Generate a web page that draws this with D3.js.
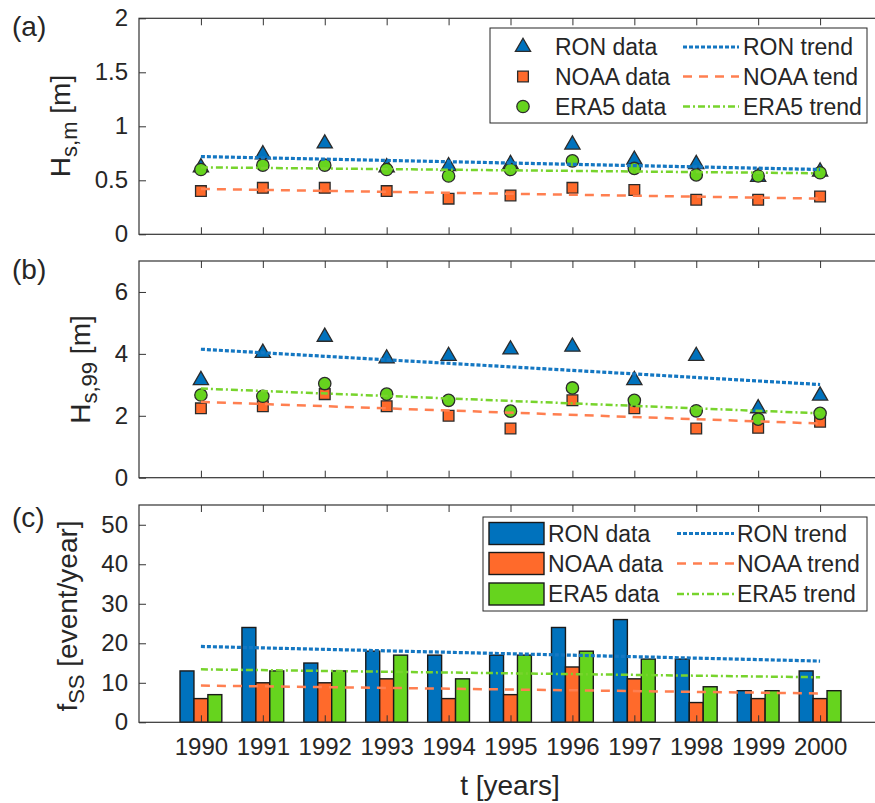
<!DOCTYPE html>
<html>
<head>
<meta charset="utf-8">
<script src="https://cdn.jsdelivr.net/npm/d3@7"></script>
<style>
  body { margin: 0; background: #fff; }
  text { font-family: "Liberation Sans", Arial, sans-serif; fill: #262626; }
</style>
</head>
<body>
<svg id="chart" width="875" height="803"></svg>
<script>
// years on the x axis
const years = [1990, 1991, 1992, 1993, 1994, 1995, 1996, 1997, 1998, 1999, 2000];
const trendYears = [1990, 2000];

// (a) mean significant wave height [m]
const ronHsm  = [0.62, 0.74, 0.84, 0.62, 0.63, 0.65, 0.83, 0.69, 0.65, 0.53, 0.58];
const noaaHsm = [0.40, 0.43, 0.43, 0.40, 0.33, 0.36, 0.43, 0.41, 0.32, 0.32, 0.35];
const era5Hsm = [0.60, 0.64, 0.64, 0.60, 0.54, 0.60, 0.68, 0.61, 0.55, 0.54, 0.57];
const ronTrendA  = [0.72, 0.60];
const noaaTrendA = [0.42, 0.33];
const era5TrendA = [0.62, 0.565];

// (b) 99th percentile wave height [m]
const ronHs99  = [3.15, 4.03, 4.55, 3.85, 3.93, 4.14, 4.23, 3.15, 3.93, 2.24, 2.65];
const noaaHs99 = [2.24, 2.31, 2.70, 2.31, 2.00, 1.59, 2.50, 2.24, 1.59, 1.61, 1.81];
const era5Hs99 = [2.67, 2.63, 3.04, 2.70, 2.50, 2.15, 2.90, 2.50, 2.16, 1.89, 2.08];
const ronTrendB  = [4.15, 3.01];
const noaaTrendB = [2.45, 1.75];
const era5TrendB = [2.88, 2.08];

// (c) storm frequency [event/year]
const ronFss  = [13, 24, 15, 18, 17, 17, 24, 26, 16, 8, 13];
const noaaFss = [6, 10, 10, 11, 6, 7, 14, 11, 5, 6, 6];
const era5Fss = [7, 13, 13, 17, 11, 17, 18, 16, 9, 8, 8];
const ronTrendC  = [19.2, 15.5];
const noaaTrendC = [9.3, 7.3];
const era5TrendC = [13.4, 11.4];

const ticksA = [0, 0.5, 1, 1.5, 2];
const ticksB = [0, 2, 4, 6];
const ticksC = [0, 10, 20, 30, 40, 50];

const markerCol = { ron: '#0072BD', noaa: '#FF6A2B', era5: '#66D41E' };
const trendCol  = { ron: '#1477C2', noaa: '#FF7F50', era5: '#77D42C' };
const trendDash = { ron: '4,2', noaa: '9,7', era5: '7,3,2,3' };
const trendWidth = { ron: 3.2, noaa: 2.5, era5: 2.5 };

const svg = d3.select('#chart');
svg.append('rect').attr('width', 875).attr('height', 803).attr('fill', '#fff');

const x = d3.scaleLinear().domain([1989, 2001]).range([139, 882]);

function frame(y, ticks, showXLabels) {
  const g = svg.append('g');
  const [y0, y1] = y.range();
  const fmt = d => String(d);

  g.append('g').attr('transform', `translate(0,${y0})`)
    .call(d3.axisBottom(x).tickValues(years).tickSize(-7).tickPadding(16)
      .tickFormat(showXLabels ? fmt : ''));
  g.append('g').attr('transform', `translate(0,${y1})`)
    .call(d3.axisTop(x).tickValues(years).tickSize(-7).tickFormat(''));
  g.append('g').attr('transform', `translate(${x.range()[0]},0)`)
    .call(d3.axisLeft(y).tickValues(ticks).tickSize(-7).tickPadding(11).tickFormat(fmt));
  g.append('g').attr('transform', `translate(${x.range()[1]},0)`)
    .call(d3.axisRight(y).tickValues(ticks).tickSize(-7).tickFormat(''));

  g.selectAll('.domain').remove();
  g.selectAll('.tick line').attr('stroke', '#333').attr('stroke-width', 1);
  g.selectAll('.tick text').style('font-size', '24px').attr('fill', '#262626');

  g.append('rect')
    .attr('x', x.range()[0]).attr('y', y1)
    .attr('width', x.range()[1] - x.range()[0]).attr('height', y0 - y1)
    .attr('fill', 'none').attr('stroke', '#333').attr('stroke-width', 1.2);
}

function trend(y, vals, key) {
  svg.append('path')
    .datum(trendYears.map((t, i) => [t, vals[i]]))
    .attr('d', d3.line().x(d => x(d[0])).y(d => y(d[1])))
    .attr('fill', 'none')
    .attr('stroke', trendCol[key])
    .attr('stroke-width', trendWidth[key])
    .attr('stroke-dasharray', trendDash[key]);
}

const symbols = {
  ron:  d3.symbol().type(d3.symbolTriangle).size(100)(),
  noaa: d3.symbol().type(d3.symbolSquare).size(115)(),
  era5: d3.symbol().type(d3.symbolCircle).size(120)()
};

function scatter(y, vals, key) {
  svg.append('g').selectAll('path')
    .data(years.map((t, i) => [t, vals[i]]))
    .join('path')
    .attr('d', symbols[key])
    .attr('transform', d => `translate(${x(d[0])},${y(d[1])})`)
    .attr('fill', markerCol[key])
    .attr('stroke', '#2b2b2b')
    .attr('stroke-width', 1.3);
}

function yLabel(tx, ty, main, sub, tail) {
  const t = svg.append('text')
    .attr('transform', `translate(${tx},${ty}) rotate(-90)`)
    .attr('text-anchor', 'middle')
    .style('font-size', '28px');
  t.append('tspan').text(main);
  t.append('tspan').attr('dy', 7).style('font-size', '22px').text(sub);
  t.append('tspan').attr('dy', -7).text(tail);
}

function panelLabel(tx, ty, s) {
  svg.append('text').attr('x', tx).attr('y', ty).style('font-size', '28px').text(s);
}

// ---------- panel (a)
const yA = d3.scaleLinear().domain([0, 2]).range([234.3, 18.3]);
scatter(yA, ronHsm, 'ron');
scatter(yA, noaaHsm, 'noaa');
scatter(yA, era5Hsm, 'era5');
trend(yA, ronTrendA, 'ron');
trend(yA, noaaTrendA, 'noaa');
trend(yA, era5TrendA, 'era5');
frame(yA, ticksA, false);
yLabel(70, 126, 'H', 's,m', ' [m]');
panelLabel(12, 36, '(a)');

// ---------- panel (b)
const yB = d3.scaleLinear().domain([0, 7]).range([477.7, 261]);
scatter(yB, ronHs99, 'ron');
scatter(yB, noaaHs99, 'noaa');
scatter(yB, era5Hs99, 'era5');
trend(yB, ronTrendB, 'ron');
trend(yB, noaaTrendB, 'noaa');
trend(yB, era5TrendB, 'era5');
frame(yB, ticksB, false);
yLabel(90, 369.5, 'H', 's,99', ' [m]');
panelLabel(12, 279, '(b)');

// ---------- panel (c)
const yC = d3.scaleLinear().domain([0, 55]).range([722.3, 505]);
const barSeries = [
  { key: 'ron', vals: ronFss, off: -0.225 },
  { key: 'noaa', vals: noaaFss, off: 0 },
  { key: 'era5', vals: era5Fss, off: 0.225 }
];
const barW = 0.225;
barSeries.forEach(s => {
  svg.append('g').selectAll('rect')
    .data(years.map((t, i) => [t, s.vals[i]]))
    .join('rect')
    .attr('x', d => x(d[0] + s.off - barW / 2))
    .attr('width', x(barW) - x(0))
    .attr('y', d => yC(d[1]))
    .attr('height', d => yC(0) - yC(d[1]))
    .attr('fill', markerCol[s.key])
    .attr('stroke', '#1a1a1a')
    .attr('stroke-width', 1.4);
});
trend(yC, ronTrendC, 'ron');
trend(yC, noaaTrendC, 'noaa');
trend(yC, era5TrendC, 'era5');
frame(yC, ticksC, true);
yLabel(77, 616, 'f', 'SS', ' [event/year]');
panelLabel(12, 527, '(c)');

svg.append('text').attr('x', 510).attr('y', 795).attr('text-anchor', 'middle')
  .style('font-size', '28px').text('t [years]');

// ---------- legends
const names = ['RON', 'NOAA', 'ERA5'];
const keys = ['ron', 'noaa', 'era5'];
const trendWords = ['trend', 'tend', 'trend'];

// legend (a)
svg.append('rect').attr('x', 490).attr('y', 28).attr('width', 377).attr('height', 95)
  .attr('fill', '#fff').attr('stroke', '#262626').attr('stroke-width', 1);
[47, 76.5, 106.5].forEach((cy, i) => {
  svg.append('path').attr('d', symbols[keys[i]])
    .attr('transform', `translate(523,${cy})`)
    .attr('fill', markerCol[keys[i]]).attr('stroke', '#2b2b2b').attr('stroke-width', 1.3);
  svg.append('text').attr('x', 555).attr('y', cy + 8).style('font-size', '23px')
    .text(names[i] + ' data');
  svg.append('line').attr('x1', 683).attr('x2', 739).attr('y1', cy).attr('y2', cy)
    .attr('stroke', trendCol[keys[i]]).attr('stroke-width', trendWidth[keys[i]])
    .attr('stroke-dasharray', trendDash[keys[i]]);
  svg.append('text').attr('x', 743).attr('y', cy + 8).style('font-size', '23px')
    .text(names[i] + ' ' + trendWords[i]);
});

// legend (c)
svg.append('rect').attr('x', 483).attr('y', 517).attr('width', 384).attr('height', 94)
  .attr('fill', '#fff').attr('stroke', '#262626').attr('stroke-width', 1);
[533.5, 563.5, 594].forEach((cy, i) => {
  svg.append('rect').attr('x', 489).attr('y', cy - 11).attr('width', 55).attr('height', 22)
    .attr('fill', markerCol[keys[i]]).attr('stroke', '#1a1a1a').attr('stroke-width', 1.4);
  svg.append('text').attr('x', 548).attr('y', cy + 8).style('font-size', '23px')
    .text(names[i] + ' data');
  svg.append('line').attr('x1', 677).attr('x2', 734).attr('y1', cy).attr('y2', cy)
    .attr('stroke', trendCol[keys[i]]).attr('stroke-width', trendWidth[keys[i]])
    .attr('stroke-dasharray', trendDash[keys[i]]);
  svg.append('text').attr('x', 737).attr('y', cy + 8).style('font-size', '23px')
    .text(names[i] + ' trend');
});
</script>
</body>
</html>
